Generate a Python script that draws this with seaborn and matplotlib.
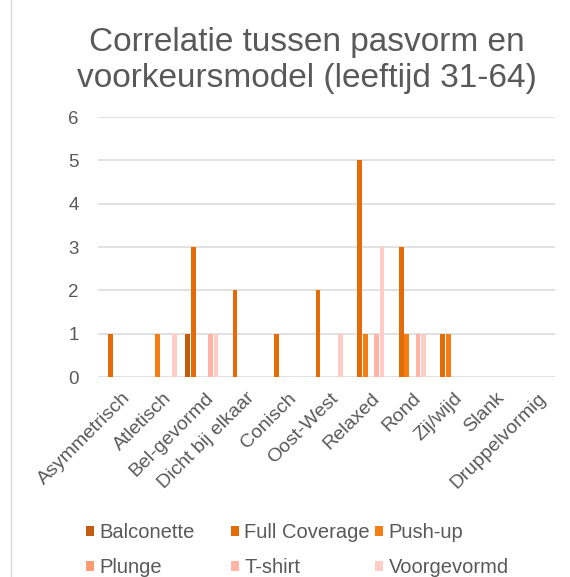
import matplotlib
matplotlib.use("Agg")
import matplotlib.pyplot as plt
import matplotlib.transforms as mtransforms
import seaborn as sns
import pandas as pd
from matplotlib.lines import Line2D

# Lichaamsvorm categorieën
vormen = ["Asymmetrisch", "Atletisch", "Bel-gevormd", "Dicht bij elkaar", "Conisch",
          "Oost-West", "Relaxed", "Rond", "Zij/wijd", "Slank", "Druppelvormig"]

# Aantallen per voorkeursmodel
balconette    = [0, 0, 1, 0, 0, 0, 0, 0, 0, 0, 0]
full_coverage = [1, 0, 3, 2, 1, 2, 5, 3, 1, 0, 0]
push_up       = [0, 1, 0, 0, 0, 0, 1, 1, 1, 0, 0]
plunge        = [0, 0, 0, 0, 0, 0, 0, 0, 0, 0, 0]
t_shirt       = [0, 0, 1, 0, 0, 0, 1, 1, 0, 0, 0]
voorgevormd   = [0, 1, 1, 0, 0, 1, 3, 1, 0, 0, 0]

modellen = ["Balconette", "Full Coverage", "Push-up", "Plunge", "T-shirt", "Voorgevormd"]
kleuren = ["#C55A11", "#E36C09", "#F57D14", "#FF9B73", "#FFB4A4", "#FFCDC5"]

reeksen = [balconette, full_coverage, push_up, plunge, t_shirt, voorgevormd]
rows = []
for model, waarden in zip(modellen, reeksen):
    for vorm, w in zip(vormen, waarden):
        rows.append({"vorm": vorm, "model": model, "aantal": w})
df = pd.DataFrame(rows)

sns.set_theme(style="white")
plt.rcParams["font.family"] = ["Liberation Sans", "DejaVu Sans"]
tekst = "#595959"

fig = plt.figure(figsize=(5.70, 5.77), dpi=100)
ax = fig.add_axes([98 / 570, 1 - 377 / 577, 457 / 570, 260 / 577])

sns.barplot(data=df, x="vorm", y="aantal", hue="model", order=vormen,
            hue_order=modellen, palette=kleuren, width=0.81, gap=0.15,
            linewidth=0, saturation=1, ax=ax, legend=True)

ax.set_ylim(0, 6)
ax.set_yticks(range(0, 7))
ax.set_xlim(-0.5, len(vormen) - 0.5)
ax.yaxis.grid(True, color="#D9D9D9", linewidth=1.1)
ax.set_axisbelow(True)
for s in ax.spines.values():
    s.set_visible(False)
ax.set_xlabel("")
ax.set_ylabel("")
ax.tick_params(axis="y", length=0, pad=14, labelsize=13.5, labelcolor=tekst)
ax.tick_params(axis="x", length=0, pad=9, labelsize=14, labelcolor=tekst)
schuif = mtransforms.ScaledTranslation(3 / 100, 0, fig.dpi_scale_trans)
for lbl in ax.get_xticklabels():
    lbl.set_rotation(45)
    lbl.set_ha("right")
    lbl.set_rotation_mode("anchor")
    lbl.set_transform(lbl.get_transform() + schuif)

# Legenda onderaan: drie kolommen van twee items
handles, labels = ax.get_legend_handles_labels()
ax.get_legend().remove()
kolom_x = [86, 231, 375]
for k, x0 in enumerate(kolom_x):
    idx = [k, k + 3]
    fig.legend([handles[i] for i in idx], [labels[i] for i in idx],
               loc="upper left", bbox_to_anchor=(x0 / 570, 1 - 523 / 577),
               frameon=False, fontsize=14.5, labelcolor=tekst,
               handlelength=0.42, handleheight=0.42, handletextpad=0.25,
               labelspacing=0.8, borderpad=0, borderaxespad=0)

fig.text(307 / 570, 1 - 43 / 577, "Correlatie tussen pasvorm en",
         ha="center", va="center", fontsize=24, color=tekst)
fig.text(307 / 570, 1 - 79 / 577, "voorkeursmodel (leeftijd 31-64)",
         ha="center", va="center", fontsize=24, color=tekst)

# Kaderlijn links
fig.add_artist(Line2D([11 / 570, 11 / 570], [0, 1], color="#D9D9D9", linewidth=1))

fig.savefig("out.png", dpi=100)
